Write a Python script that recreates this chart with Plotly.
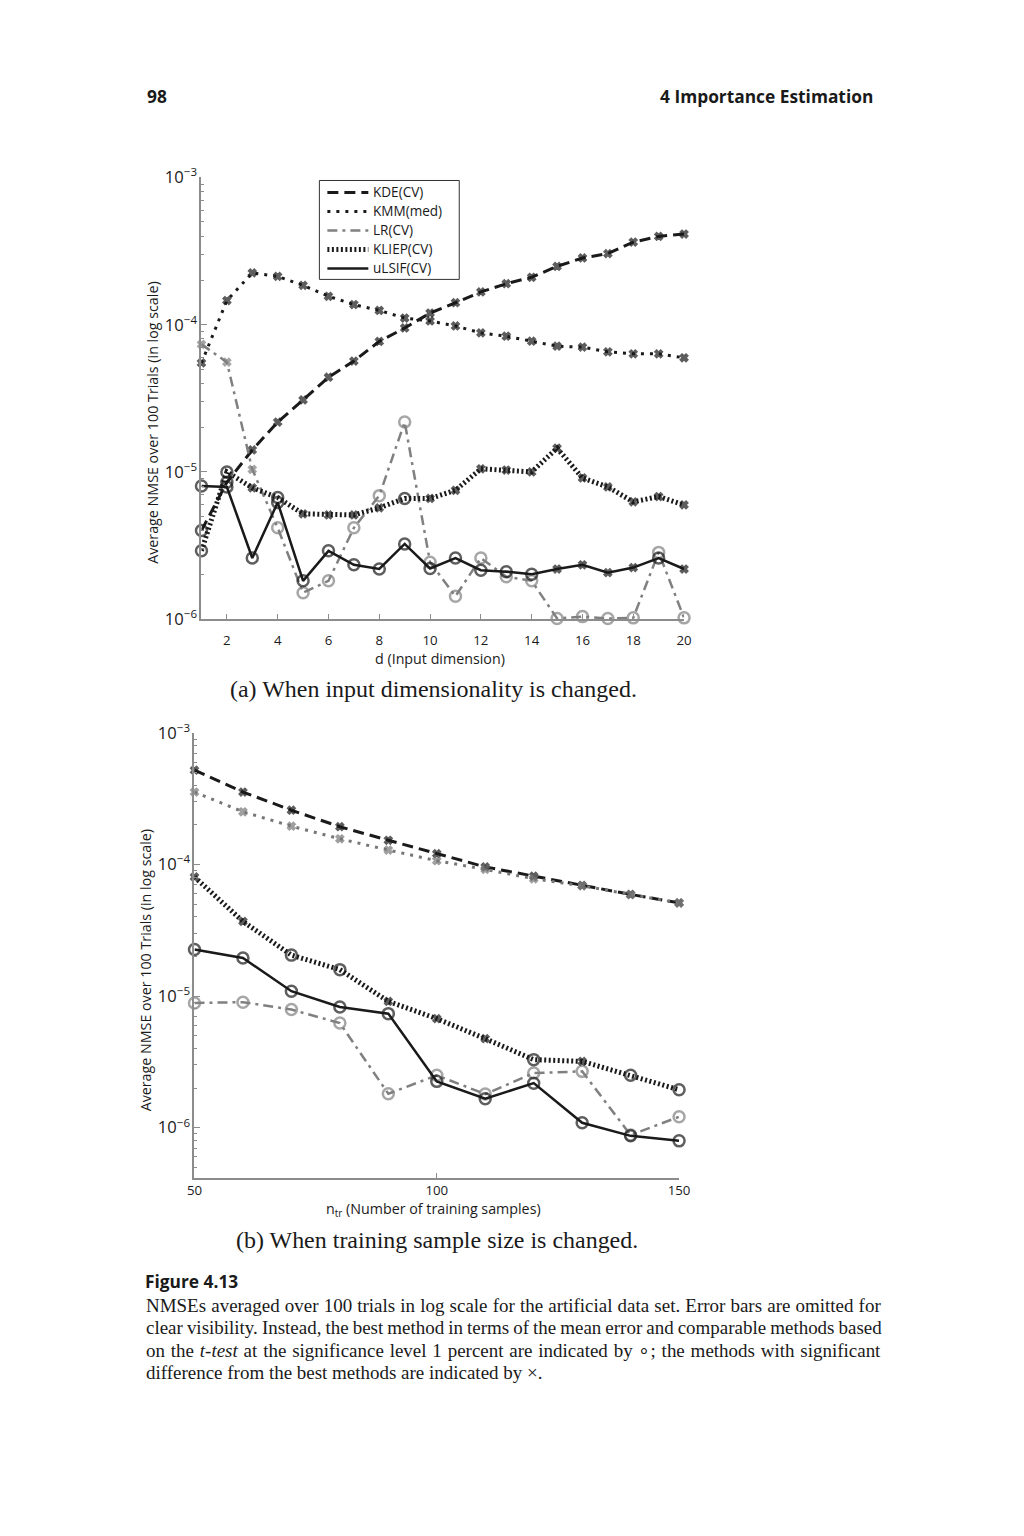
import plotly.graph_objects as go

# ---------------- data: panel (a) ----------------
d_vals = list(range(1, 21))
kde_a = [4.0e-6, 8.5e-6, 1.41e-5, 2.18e-5, 3.08e-5, 4.4e-5, 5.66e-5, 7.7e-5, 9.5e-5, 1.2e-4,
         1.41e-4, 1.67e-4, 1.9e-4, 2.1e-4, 2.49e-4, 2.84e-4, 3.04e-4, 3.64e-4, 3.98e-4, 4.13e-4]
kmm_a = [5.5e-5, 1.46e-4, 2.25e-4, 2.13e-4, 1.85e-4, 1.56e-4, 1.37e-4, 1.25e-4, 1.11e-4, 1.06e-4,
         9.8e-5, 8.8e-5, 8.35e-5, 7.73e-5, 7.15e-5, 7.04e-5, 6.54e-5, 6.34e-5, 6.34e-5, 5.96e-5]
lr_a = [7.35e-5, 5.57e-5, 1.04e-5, 4.17e-6, 1.51e-6, 1.82e-6, 4.17e-6, 6.9e-6, 2.18e-5, 2.43e-6,
        1.43e-6, 2.6e-6, 1.94e-6, 1.82e-6, 1.01e-6, 1.04e-6, 1.01e-6, 1.02e-6, 2.84e-6, 1.02e-6]
kliep_a = [2.91e-6, 1.0e-5, 7.8e-6, 6.7e-6, 5.19e-6, 5.1e-6, 5.1e-6, 5.7e-6, 6.6e-6, 6.6e-6,
           7.5e-6, 1.05e-5, 1.03e-5, 1.0e-5, 1.45e-5, 9.1e-6, 7.9e-6, 6.26e-6, 6.8e-6, 5.97e-6]
ulsif_a = [8.03e-6, 7.9e-6, 2.6e-6, 6.2e-6, 1.82e-6, 2.91e-6, 2.34e-6, 2.19e-6, 3.24e-6, 2.21e-6,
           2.6e-6, 2.15e-6, 2.1e-6, 2.02e-6, 2.19e-6, 2.34e-6, 2.07e-6, 2.24e-6, 2.6e-6, 2.19e-6]
# 1 = best/comparable (o), 0 = significantly worse (x)
kde_a_ok = [1, 1] + [0] * 18
kmm_a_ok = [0] * 20
lr_a_ok = [0, 0, 0] + [1] * 17
kliep_a_ok = [1, 1, 0, 1, 0, 0, 0, 0, 1, 0, 0, 0, 0, 0, 0, 0, 0, 0, 0, 0]
ulsif_a_ok = [1] * 14 + [0, 0, 0, 0, 1, 0]

# ---------------- data: panel (b) ----------------
n_vals = [50, 60, 70, 80, 90, 100, 110, 120, 130, 140, 150]
kde_b = [5.22e-4, 3.56e-4, 2.59e-4, 1.94e-4, 1.53e-4, 1.21e-4, 9.6e-5, 8.17e-5, 6.94e-5, 5.93e-5, 5.12e-5]
kmm_b = [3.56e-4, 2.52e-4, 1.96e-4, 1.57e-4, 1.29e-4, 1.07e-4, 9.2e-5, 7.8e-5, 6.9e-5, 5.9e-5, 5.1e-5]
lr_b = [8.87e-6, 9.0e-6, 7.9e-6, 6.24e-6, 1.81e-6, 2.5e-6, 1.8e-6, 2.6e-6, 2.68e-6, 8.8e-7, 1.21e-6]
kliep_b = [8.05e-5, 3.7e-5, 2.05e-5, 1.59e-5, 9.12e-6, 6.74e-6, 4.75e-6, 3.29e-6, 3.19e-6, 2.5e-6, 1.94e-6]
ulsif_b = [2.26e-5, 1.95e-5, 1.09e-5, 8.27e-6, 7.36e-6, 2.25e-6, 1.66e-6, 2.18e-6, 1.09e-6, 8.67e-7, 7.94e-7]
kde_b_ok = [0] * 11
kmm_b_ok = [0] * 11
lr_b_ok = [1] * 11
kliep_b_ok = [0, 0, 1, 1, 0, 0, 0, 1, 0, 1, 1]
ulsif_b_ok = [1] * 11

method_names = ["KDE(CV)", "KMM(med)", "LR(CV)", "KLIEP(CV)", "uLSIF(CV)"]

# figure size and mapping from target-picture pixels to paper coordinates
OFF = 8
W, H = 1008, 1518
AX, BX = 0.982, 7.5
AY, BY = 0.985, 11.5
def px(x):
    p = (x - BX) / AX
    return (p - OFF) / W
def py(y):
    p = (y - BY) / AY
    return 1 - (p - OFF) / H
FS = 1.02  # font compensation

FONT = "Open Sans"
BLACK = "#1a1a1a"
GRAY = "#808080"

styles = {
    "KDE(CV)": dict(color=BLACK, width=3, dash="11px,6px"),
    "KMM(med)": dict(color=BLACK, width=3, dash="3px,6px"),
    "LR(CV)": dict(color=GRAY, width=2.5, dash="10px,5px,3px,5px"),
    "KLIEP(CV)": dict(color=BLACK, width=5, dash="2px,2.5px"),
    "uLSIF(CV)": dict(color=BLACK, width=2.5),
}

fig = go.Figure()

def add_series(x, y, ok, name, xa, ya, style):
    symbols = ["circle-open" if f else "x" for f in ok]
    sizes = [11 if f else 7 for f in ok]
    lws = [2.5 if f else 1.3 for f in ok]
    fig.add_trace(go.Scatter(
        x=x, y=y, mode="lines+markers", name=name, showlegend=False,
        xaxis=xa, yaxis=ya, cliponaxis=False,
        line=style,
        marker=dict(symbol=symbols, size=sizes, color=style["color"],
                    line=dict(width=lws, color=style["color"])),
    ))

panel_a = [kde_a, kmm_a, lr_a, kliep_a, ulsif_a]
panel_a_ok = [kde_a_ok, kmm_a_ok, lr_a_ok, kliep_a_ok, ulsif_a_ok]
panel_b = [kde_b, kmm_b, lr_b, kliep_b, ulsif_b]
panel_b_ok = [kde_b_ok, kmm_b_ok, lr_b_ok, kliep_b_ok, ulsif_b_ok]

for name, ys, ok in zip(method_names, panel_a, panel_a_ok):
    add_series(d_vals, ys, ok, name, "x", "y", styles[name])

for name, ys, ok in zip(method_names, panel_b, panel_b_ok):
    st = dict(styles[name])
    if name == "KMM(med)":
        st["color"] = "#777777"
    add_series(n_vals, ys, ok, name, "x2", "y2", st)

axis_common = dict(showline=True, linecolor="#8c8c8c", linewidth=1.5, ticks="inside",
                   tickcolor="#8c8c8c", showgrid=False, zeroline=False, mirror=False,
                   tickfont=dict(family=FONT, size=13 * FS, color=BLACK))

fig.update_layout(
    width=W, height=H, margin=dict(l=0, r=0, t=0, b=0),
    paper_bgcolor="white", plot_bgcolor="white",
    font=dict(family=FONT, color=BLACK), showlegend=False,
    xaxis=dict(domain=[px(201), px(684)], range=[1, 20], anchor="y",
               tickvals=list(range(2, 21, 2)), ticklen=5, ticklabelstandoff=8, **axis_common),
    yaxis=dict(domain=[py(618), py(176)], type="log", range=[-6, -3], anchor="x",
               dtick=1, exponentformat="power", ticklen=6,
               minor=dict(dtick="D1", ticks="inside", ticklen=3, tickcolor="#8c8c8c"),
               **axis_common),
    xaxis2=dict(domain=[px(194), px(679)], range=[50, 150], anchor="y2",
                tickvals=[50, 100, 150], ticklen=5, ticklabelstandoff=0, **axis_common),
    yaxis2=dict(domain=[py(1177), py(732)], type="log", range=[-6.38, -3], anchor="x2",
                dtick=1, exponentformat="power", ticklen=6,
                minor=dict(dtick="D1", ticks="inside", ticklen=3, tickcolor="#8c8c8c"),
                **axis_common),
)

ann = []
shapes = []
def text(x, y, s, size, family=FONT, xanchor="center", angle=0, color=BLACK):
    ann.append(dict(x=px(x), y=py(y), xref="paper", yref="paper", text=s, showarrow=False,
                    xanchor=xanchor, yanchor="middle", textangle=angle,
                    font=dict(family=family, size=size * FS, color=color)))

# legend for panel (a): framed box with line samples and labels
shapes.append(dict(type="rect", xref="paper", yref="paper",
                   x0=px(319), x1=px(459), y0=py(278), y1=py(179),
                   line=dict(color="#333333", width=1), fillcolor="white", layer="above"))
for i, name in enumerate(method_names):
    yy = 191 + i * 19
    st = styles[name]
    shapes.append(dict(type="line", xref="paper", yref="paper",
                       x0=px(327), x1=px(368), y0=py(yy), y1=py(yy), layer="above",
                       line=dict(color=st["color"], width=st["width"], dash=st.get("dash", "solid"))))
    text(371, yy, name, 13.3, xanchor="left")

text(144, 94, "<b>98</b>", 17, xanchor="left")
text(875, 94, "<b>4 Importance Estimation</b>", 17, xanchor="right")
text(152, 422, "Average NMSE over 100 Trials (in log scale)", 14, angle=-90)
text(440, 657, "d (Input dimension)", 14)
text(433, 688, "(a) When input dimensionality is changed.", 23.5, family="Liberation Serif")
text(145, 970, "Average NMSE over 100 Trials (in log scale)", 14, angle=-90)
text(433, 1209, "n<sub>tr</sub> (Number of training samples)", 14)
text(437, 1239, "(b) When training sample size is changed.", 23.5, family="Liberation Serif")
text(142, 1280, "<b>Figure 4.13</b>", 17, xanchor="left")
caption = [
    ("NMSEs averaged over 100 trials in log scale for the artificial data set. Error bars are omitted for", 0.4),
    ("clear visibility. Instead, the best method in terms of the mean error and comparable methods based", -0.7),
    ("on the <i>t-test</i> at the significance level 1 percent are indicated by ∘; the methods with significant", 1.1),
    ("difference from the best methods are indicated by ×.", 0),
]
for i, (line, ws) in enumerate(caption):
    s = '<span style="word-spacing:%.2fpx">%s</span>' % (ws, line) if ws else line
    text(143, 1305 + i * 22.3, s, 18.6, family="Liberation Serif", xanchor="left")

fig.update_layout(annotations=ann, shapes=shapes)
fig.write_html("out.html")
